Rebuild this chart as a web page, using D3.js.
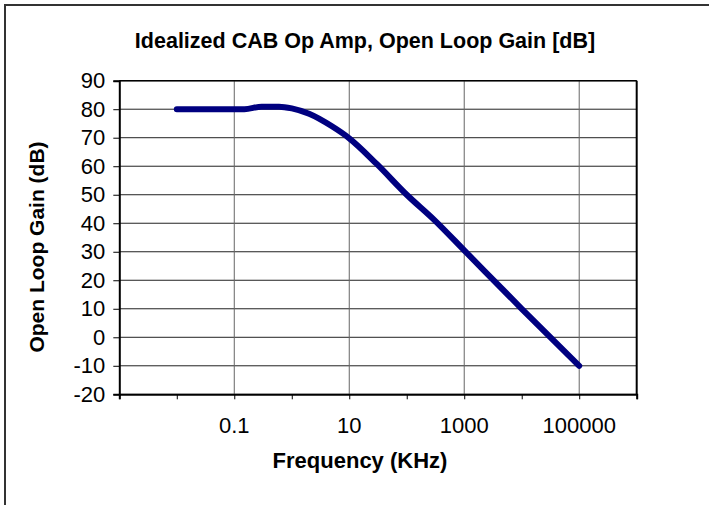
<!DOCTYPE html>
<html>
<head>
<meta charset="utf-8">
<script src="https://cdnjs.cloudflare.com/ajax/libs/d3/7.8.5/d3.min.js"></script>
<style>
body { margin: 0; background: #fff; }
text { font-family: "Liberation Sans", Arial, sans-serif; fill: #000; }
</style>
</head>
<body>
<div id="chart"></div>
<script>
// Frequency (KHz) and open loop gain (dB)
var freq = [0.01, 0.15, 0.3, 0.6, 1, 2, 5, 10, 30, 100, 300, 1000, 10000, 100000];
var gain = [80, 80, 80.9, 80.9, 80.3, 78.4, 74, 69.8, 60.8, 50, 41.2, 30.5, 10, -10];
// axis ticks
var xMajor = [0.1, 10, 1000, 100000];
var xMinor = [0.001, 0.01, 0.1, 1, 10, 100, 1000, 10000, 100000, 1000000];
var yTicks = [-20, -10, 0, 10, 20, 30, 40, 50, 60, 70, 80, 90];

var width = 709, height = 505;
var plotLeft = 119.3, plotRight = 636.7, plotTop = 80.7, plotBottom = 394.3;

var svg = d3.select("#chart").append("svg").attr("width", width).attr("height", height);

// chart area border (runs off the picture at right and bottom)
svg.append("rect").attr("x", 5).attr("y", 5).attr("width", 800).attr("height", 600)//
    .attr("fill", "#fff").attr("stroke", "#333").attr("stroke-width", 2);

var x = d3.scaleLog().domain([0.001, 1000000]).range([plotLeft, plotRight]);
var y = d3.scaleLinear().domain([-20, 90]).range([plotBottom, plotTop]);

// gridlines
svg.append("g").selectAll("line").data(yTicks).enter().append("line")//
    .attr("x1", plotLeft).attr("x2", plotRight)//
    .attr("y1", function(d) { return y(d); }).attr("y2", function(d) { return y(d); })//
    .attr("stroke", "#222").attr("stroke-width", 1);
svg.append("g").selectAll("line").data(xMajor).enter().append("line")//
    .attr("x1", function(d) { return x(d); }).attr("x2", function(d) { return x(d); })//
    .attr("y1", plotTop).attr("y2", plotBottom)//
    .attr("stroke", "#666").attr("stroke-width", 1);

// right and top edge of the plot area
svg.append("line").attr("x1", plotRight).attr("x2", plotRight).attr("y1", plotTop).attr("y2", plotBottom)//
    .attr("stroke", "#000").attr("stroke-width", 2);
svg.append("line").attr("x1", plotLeft).attr("x2", plotRight).attr("y1", plotTop).attr("y2", plotTop)//
    .attr("stroke", "#000").attr("stroke-width", 1.5);

// y axis (plain hyphen for negatives, like the original)
var yAxis = d3.axisLeft(y).tickValues(yTicks).tickSize(6).tickPadding(8)//
    .tickFormat(function(d) { return String(d); });
var gy = svg.append("g").attr("transform", "translate(" + plotLeft + ",0)").call(yAxis);
gy.select(".domain").attr("stroke", "#000").attr("stroke-width", 2);
gy.selectAll(".tick line").attr("stroke", "#000");
gy.selectAll(".tick text").attr("font-size", 22).attr("font-family", "Liberation Sans, Arial, sans-serif");

// x axis: minor ticks every decade, labels every second decade
var xAxis = d3.axisBottom(x).tickValues(xMinor).tickSize(5).tickFormat("");
var gx = svg.append("g").attr("transform", "translate(0," + plotBottom + ")").call(xAxis);
gx.select(".domain").attr("stroke", "#000").attr("stroke-width", 2);
gx.selectAll(".tick line").attr("stroke", "#000");
svg.append("g").selectAll("text").data(xMajor).enter().append("text")//
    .attr("x", function(d) { return x(d); }).attr("y", 433)//
    .attr("text-anchor", "middle").attr("font-size", 22)//
    .text(function(d) { return String(d); });

// the curve
var pts = freq.map(function(f, i) { return [f, gain[i]]; });
var line = d3.line()//
    .x(function(d) { return x(d[0]); })//
    .y(function(d) { return y(d[1]); })//
    .curve(d3.curveMonotoneX);
svg.append("path").datum(pts).attr("d", line)//
    .attr("fill", "none").attr("stroke", "#000080").attr("stroke-width", 6)//
    .attr("stroke-linecap", "round").attr("stroke-linejoin", "round");

// titles
svg.append("text").attr("x", 365).attr("y", 48).attr("text-anchor", "middle")//
    .attr("font-size", 21.5).attr("font-weight", "bold")//
    .text("Idealized CAB Op Amp, Open Loop Gain [dB]");
svg.append("text").attr("x", 360).attr("y", 468).attr("text-anchor", "middle")//
    .attr("font-size", 22).attr("font-weight", "bold")//
    .text("Frequency (KHz)");
svg.append("text").attr("transform", "translate(44,247) rotate(-90)").attr("text-anchor", "middle")//
    .attr("font-size", 21).attr("font-weight", "bold")//
    .text("Open Loop Gain (dB)");
</script>
</body>
</html>
